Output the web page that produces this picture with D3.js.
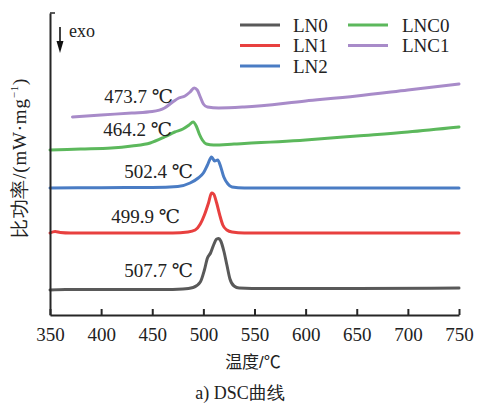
<!DOCTYPE html>
<html>
<head>
<meta charset="utf-8">
<script src="https://cdn.jsdelivr.net/npm/d3@7/dist/d3.min.js"></script>
<style>
  html, body { margin: 0; padding: 0; background: #ffffff; }
  svg { display: block; }
</style>
</head>
<body>
<svg id="chart" width="477" height="403"></svg>
<script>
// ---------- data (temperature °C, relative heat-flow units) ----------
const seriesNames = ["LN0", "LN1", "LN2", "LNC0", "LNC1"];
const seriesColors = ["#595959", "#e8403f", "#4a7cc4", "#5cb85c", "#a88bc9"];

const LN0 = [[350,25],[365,25.5],[380,25.5],[420,25.5],[460,25.5],[480,26],[490,27.5],[497,33],[501,45],[504,57],[507,62],[510,70],[513,76],[515,76.5],[517,74],[520,64],[523,50],[526,36],[530,29],[535,27],[560,26.5],[650,26.5],[750,27]];
const LN1 = [[350,82],[355,83.5],[360,82.5],[370,82],[420,82],[470,82],[485,83],[492,85],[497,91],[501,100],[505,112],[508,122],[510,121],[513,112],[516,100],[519,90],[523,85],[528,83],[540,82],[650,82],[750,82]];
const LN2 = [[350,127],[400,127.3],[450,127.5],[475,128.5],[487,132],[495,137],[500,142],[504,150],[508,158],[511,154],[514,155],[517,148],[520,138],[524,131],[528,128],[540,127],[650,127],[750,127]];
const LNC0 = [[350,165],[380,166],[410,167],[430,169],[448,172],[462,178],[472,183],[480,186],[486,190],[490,193],[493,189],[496,181],[499,175],[503,171],[510,170],[530,171],[600,175],[650,179],[700,183],[750,188]];
const LNC1 = [[372,198],[400,200],[430,202],[450,203.5],[462,207],[470,213],[476,217],[482,219],[487,223],[491,227],[494,225],[497,218],[500,211],[504,208],[515,207],[540,208],[600,214],[650,219],[700,225],[750,231]];
const seriesData = [LN0, LN1, LN2, LNC0, LNC1];

const peakLabels = ["507.7 ℃", "499.9 ℃", "502.4 ℃", "464.2 ℃", "473.7 ℃"];
const xTicks = [350, 400, 450, 500, 550, 600, 650, 700, 750];
const xTitle = "温度/℃";
const yTitle = "比功率/(mW·mg";
const caption = "a) DSC曲线";

// ---------- layout ----------
const svg = d3.select("#chart");
const serif = "Liberation Serif, DejaVu Serif, serif";
const axisColor = "#262626";

const x = d3.scaleLinear().domain([350, 750]).range([50, 459]);
const y = d3.scaleLinear().domain([0, 302]).range([315, 13]);

svg.append("rect").attr("width", 477).attr("height", 403).attr("fill", "#ffffff");

// curves
const line = d3.line().x(d => x(d[0])).y(d => y(d[1])).curve(d3.curveMonotoneX);
svg.selectAll("path.series").data(seriesData).join("path")
  .attr("class", "series")
  .attr("d", line)
  .attr("fill", "none")
  .attr("stroke", (d, i) => seriesColors[i])
  .attr("stroke-width", 3)
  .attr("stroke-linejoin", "round")
  .attr("stroke-linecap", "round");

// x axis with inward ticks
const xAxis = d3.axisBottom(x).tickValues(xTicks).tickSizeInner(-6).tickSizeOuter(0).tickPadding(13);
const gx = svg.append("g").attr("transform", `translate(0,${y(0)})`).call(xAxis);
gx.attr("font-family", null).attr("font-size", null);
gx.select(".domain").attr("stroke", axisColor).attr("stroke-width", 2);
gx.selectAll(".tick line").attr("stroke", axisColor).attr("stroke-width", 2);
gx.selectAll(".tick text").style("font-family", serif).style("font-size", "19px").attr("fill", "#222");

// y axis (no ticks)
const yAxis = d3.axisLeft(y).tickValues([]).tickSizeOuter(0);
const gy = svg.append("g").attr("transform", `translate(${x(350)},0)`).call(yAxis);
gy.select(".domain").attr("stroke", axisColor).attr("stroke-width", 2);
svg.append("line").attr("x1", x(350)).attr("x2", x(350) + 5).attr("y1", y(302)).attr("y2", y(302))
  .attr("stroke", axisColor).attr("stroke-width", 1.5);

// peak labels
const labelPos = [[193, 277], [180, 223], [193, 178], [172, 136], [173, 103]];
svg.selectAll("text.peak").data(peakLabels).join("text")
  .attr("class", "peak")
  .attr("x", (d, i) => labelPos[i][0])
  .attr("y", (d, i) => labelPos[i][1])
  .attr("text-anchor", "end")
  .style("font-family", serif)
  .style("font-size", "19px")
  .attr("fill", "#222")
  .text(d => d);

// exo arrow
svg.append("line").attr("x1", 60).attr("x2", 60).attr("y1", 27).attr("y2", 42)
  .attr("stroke", "#111").attr("stroke-width", 1.6);
svg.append("path").attr("d", "M56.5,41 L63.5,41 L60,53 Z").attr("fill", "#111");
svg.append("text").attr("x", 69).attr("y", 37).style("font-family", serif).style("font-size", "18px")
  .attr("fill", "#222").text("exo");

// legend
const legendCols = [[240, 293], [348, 402]];
const legendRows = [25, 45.5, 66];
const legendItems = seriesNames.map((n, i) => ({ name: n, color: seriesColors[i], col: i < 3 ? 0 : 1, row: i < 3 ? i : i - 3 }));
const lg = svg.append("g");
lg.selectAll("line").data(legendItems).join("line")
  .attr("x1", d => legendCols[d.col][0]).attr("x2", d => legendCols[d.col][0] + 40)
  .attr("y1", d => legendRows[d.row]).attr("y2", d => legendRows[d.row])
  .attr("stroke", d => d.color).attr("stroke-width", 3);
lg.selectAll("text").data(legendItems).join("text")
  .attr("x", d => legendCols[d.col][1]).attr("y", d => legendRows[d.row] + 6.5)
  .style("font-family", serif).style("font-size", "19px").attr("fill", "#222")
  .text(d => d.name);

// axis titles
const yt = svg.append("text")
  .attr("transform", "translate(26,158) rotate(-90)")
  .attr("text-anchor", "middle")
  .style("font-family", serif).style("font-size", "19px").attr("fill", "#222")
  .attr("letter-spacing", 0.8);
yt.append("tspan").text(yTitle);
yt.append("tspan").style("font-size", "11px").attr("dy", -8).text("−1");
yt.append("tspan").attr("dy", 8).text(")");

svg.append("text").attr("x", 253).attr("y", 368).attr("text-anchor", "middle")
  .style("font-family", "Liberation Sans, Noto Sans CJK SC, sans-serif").style("font-size", "17px").attr("fill", "#222")
  .text(xTitle);
svg.append("text").attr("x", 240).attr("y", 399).attr("text-anchor", "middle")
  .style("font-family", serif).style("font-size", "18px").attr("fill", "#222")
  .text(caption);
</script>
</body>
</html>
